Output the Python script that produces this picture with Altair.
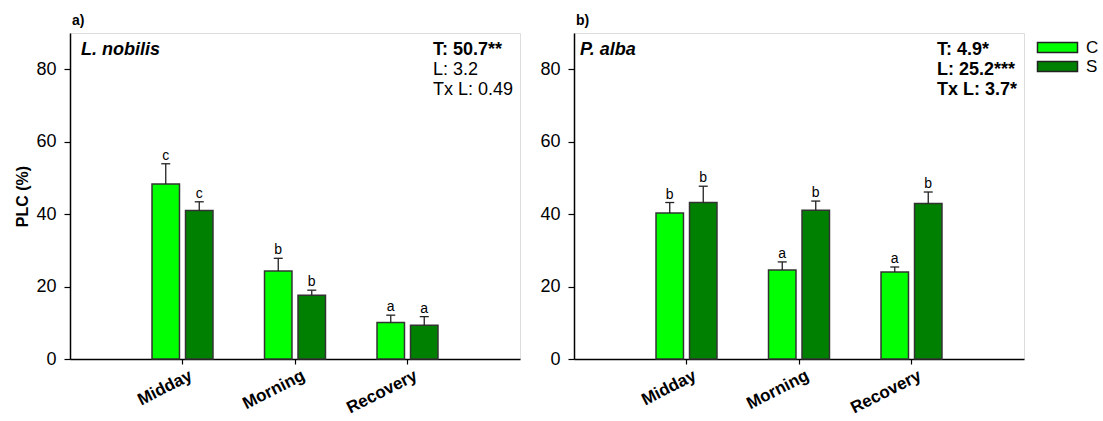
import altair as alt
import pandas as pd

FONT = "Liberation Sans"

# ---------------- data ----------------
times = ["Midday", "Morning", "Recovery"]
treatments = ["C", "S"]
colors = ["#00FF00", "#008000"]
y_ticks = [0, 20, 40, 60, 80]

# panel a) L. nobilis
a_C = [48.3, 24.3, 10.1]
a_C_err = [5.6, 3.5, 2.0]
a_S = [41.0, 17.6, 9.3]
a_S_err = [2.4, 1.4, 2.4]
a_C_let = ["c", "b", "a"]
a_S_let = ["c", "b", "a"]
a_species = "L. nobilis"
a_stats = ["T: 50.7**", "L: 3.2", "Tx L: 0.49"]
a_stats_bold = [True, False, False]

# panel b) P. alba
b_C = [40.3, 24.6, 24.0]
b_C_err = [2.9, 2.2, 1.4]
b_S = [43.2, 41.1, 42.9]
b_S_err = [4.5, 2.5, 3.2]
b_C_let = ["b", "a", "a"]
b_S_let = ["b", "b", "b"]
b_species = "P. alba"
b_stats = ["T: 4.9*", "L: 25.2***", "Tx L: 3.7*"]
b_stats_bold = [True, True, True]

W, H = 450, 326
PAD_L, PAD_T = 14, 13

LEGEND = alt.Legend(
    title=None, orient="none", legendX=979, legendY=6,
    symbolType="M-4,-1H4V1H-4Z", symbolSize=100, symbolStrokeColor="#222",
    symbolStrokeWidth=1.5, symbolOpacity=1, labelFontSize=17, labelFont=FONT,
    labelColor="black", labelOffset=20, rowPadding=1, padding=0,
)


def panel(tag, C, Ce, S, Se, Cl, Sl, species, stats, bold, species_x, show_title):
    rows = []
    for i, t in enumerate(times):
        rows.append(dict(time=t, trt="C", val=C[i], top=C[i] + Ce[i], let=Cl[i]))
        rows.append(dict(time=t, trt="S", val=S[i], top=S[i] + Se[i], let=Sl[i]))
    df = pd.DataFrame(rows)

    x = alt.X(
        "time:N",
        sort=times,
        scale=alt.Scale(domain=times, paddingInner=0.458, paddingOuter=0.729),
        axis=alt.Axis(
            title=None, labelAngle=-27, labelAlign="right", labelBaseline="top",
            labelOffset=5, labelPadding=3, labelFontSize=17, labelFontWeight="bold",
            labelFont=FONT, labelColor="black", tickSize=5, tickColor="black",
            tickWidth=1.2, domainColor="black", domainWidth=1.5,
        ),
    )
    xo = alt.XOffset("trt:N", sort=treatments,
                     scale=alt.Scale(domain=treatments, paddingInner=0.18, paddingOuter=0))

    axis_kw = dict(
        values=y_ticks, grid=False, labelFontSize=18, labelFont=FONT, labelColor="black",
        tickSize=6, tickColor="black", tickWidth=1.2, labelPadding=8,
        domainColor="black", domainWidth=1.5,
    )
    if show_title:
        axis_kw.update(title="PLC (%)", titleFontSize=16, titleFontWeight="bold",
                       titleFont=FONT, titleColor="black", titlePadding=5)
    else:
        axis_kw.update(title="")

    def ych(field):
        return alt.Y(field, scale=alt.Scale(domain=[0, 90], nice=False), axis=alt.Axis(**axis_kw))

    color = alt.Color("trt:N", scale=alt.Scale(domain=treatments, range=colors), legend=LEGEND)

    base = alt.Chart(df)
    bars = base.mark_bar(stroke="#333333", strokeWidth=1.5, opacity=1).encode(
        x=x, xOffset=xo, y=ych("val:Q"), color=color)
    err = base.mark_rule(color="#222222", strokeWidth=1.3).encode(
        x=x, xOffset=xo, y=ych("val:Q"), y2="top:Q")
    cap = base.mark_tick(color="#222222", thickness=1.3, size=9, orient="horizontal", opacity=1).encode(
        x=x, xOffset=xo, y=ych("top:Q"))
    letters = base.mark_text(font=FONT, fontSize=14, baseline="alphabetic", dy=-4, color="black").encode(
        x=x, xOffset=xo, y=ych("top:Q"), text="let:N")

    sp = alt.Chart(pd.DataFrame({"t": [species]})).mark_text(
        font=FONT, fontSize=18, fontWeight="bold", fontStyle="italic", align="left",
        baseline="middle", color="black").encode(
        x=alt.value(species_x), y=alt.value(16.6), text="t:N")

    layers = [bars, err, cap, letters, sp]
    for i, (s, b) in enumerate(zip(stats, bold)):
        layers.append(
            alt.Chart(pd.DataFrame({"t": [s]})).mark_text(
                font=FONT, fontSize=18, fontWeight="bold" if b else "normal", align="left",
                baseline="middle", color="black").encode(
                x=alt.value(363), y=alt.value(16.6 + 20 * i), text="t:N")
        )

    return alt.layer(*layers).properties(
        width=W, height=H,
        title=alt.TitleParams(tag, anchor="start", frame="group", fontSize=14, fontWeight="bold",
                              font=FONT, color="black", offset=5, dx=2),
    )


pa = panel("a)", a_C, a_C_err, a_S, a_S_err, a_C_let, a_S_let, a_species, a_stats,
           a_stats_bold, 11, True)
pb = panel("b)", b_C, b_C_err, b_S, b_S_err, b_C_let, b_S_let, b_species, b_stats,
           b_stats_bold, 6, False)

chart = alt.hconcat(pa, pb, spacing=18).resolve_legend(color="shared").properties(
    padding={"left": PAD_L, "top": PAD_T, "right": 0, "bottom": 0},
).configure_view(stroke="black", strokeWidth=1).configure(background="white")

chart.save("out.html", embed_options={"renderer": "svg", "actions": False})
